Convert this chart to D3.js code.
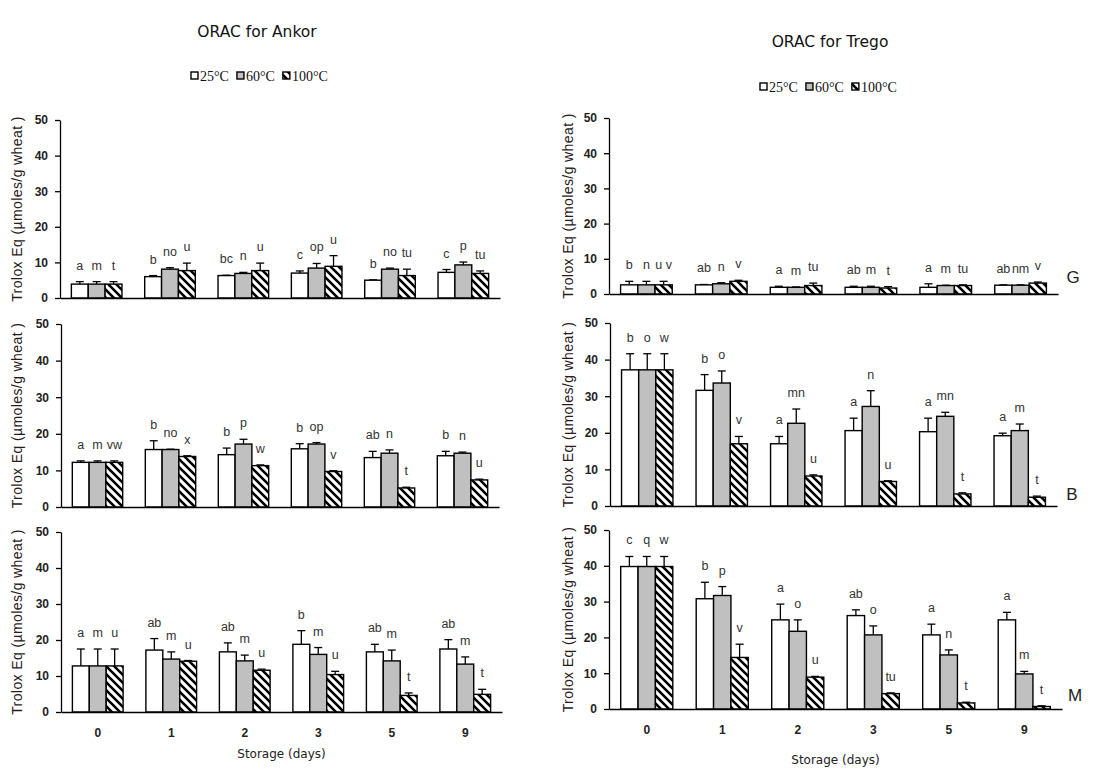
<!DOCTYPE html>
<html><head><meta charset="utf-8">
<script src="https://cdn.jsdelivr.net/npm/d3@7"></script>
<style>body{margin:0;background:#fff}</style>
</head><body><svg id="c" width="1114" height="771"></svg>
<script>
// ---------- data ----------
const days = ["0", "1", "2", "3", "5", "9"];
const temps = ["25°C", "60°C", "100°C"];
const yTicks = [0, 10, 20, 30, 40, 50];

// Ankor, G
const ankorG_25 = [3.9, 6.0, 6.3, 7.0, 5.0, 7.2];
const ankorG_25err = [0.7, 0.3, 0.1, 0.6, 0.1, 0.8];
const ankorG_60 = [3.9, 8.1, 6.9, 8.4, 8.1, 9.3];
const ankorG_60err = [0.7, 0.4, 0.3, 1.3, 0.3, 0.8];
const ankorG_100 = [3.9, 7.7, 7.7, 8.9, 6.3, 6.9];
const ankorG_100err = [0.7, 2.1, 2.1, 3.0, 1.8, 0.7];
const ankorG_letters = [["a","m","t"],["b","no","u"],["bc","n","u"],["c","op","u"],["b","no","tu"],["c","p","tu"]];

// Ankor, B
const ankorB_25 = [12.2, 15.7, 14.3, 15.9, 13.5, 14.0];
const ankorB_25err = [0.4, 2.4, 1.8, 1.4, 1.7, 1.2];
const ankorB_60 = [12.2, 15.7, 17.2, 17.2, 14.7, 14.7];
const ankorB_60err = [0.4, 0.1, 1.3, 0.4, 0.9, 0.3];
const ankorB_100 = [12.2, 13.8, 11.3, 9.7, 5.2, 7.4];
const ankorB_100err = [0.4, 0.2, 0.2, 0.2, 0.2, 0.2];
const ankorB_letters = [["a","m","vw"],["b","no","x"],["b","p","w"],["b","op","v"],["ab","n","t"],["b","n","u"]];

// Ankor, M
const ankorM_25 = [12.8, 17.2, 16.7, 18.8, 16.7, 17.5];
const ankorM_25err = [4.7, 3.2, 2.5, 3.8, 2.1, 2.6];
const ankorM_60 = [12.8, 14.7, 14.2, 16.0, 14.2, 13.3];
const ankorM_60err = [4.7, 2.0, 1.6, 1.9, 3.0, 2.0];
const ankorM_100 = [12.8, 14.1, 11.6, 10.4, 4.6, 4.9];
const ankorM_100err = [4.7, 0.2, 0.3, 0.9, 0.7, 1.4];
const ankorM_letters = [["a","m","u"],["ab","m","u"],["ab","m","u"],["b","m","u"],["ab","m","t"],["ab","m","t"]];

// Trego, G
const tregoG_25 = [2.6, 2.6, 1.9, 1.9, 1.9, 2.5];
const tregoG_25err = [1.0, 0.1, 0.3, 0.3, 1.0, 0.1];
const tregoG_60 = [2.6, 2.9, 1.9, 1.9, 2.4, 2.5];
const tregoG_60err = [1.0, 0.3, 0.1, 0.3, 0.1, 0.1];
const tregoG_100 = [2.6, 3.6, 2.4, 1.7, 2.4, 3.1];
const tregoG_100err = [1.0, 0.3, 0.7, 0.4, 0.2, 0.3];
const tregoG_letters = [["b","n","u v"],["ab","n","v"],["a","m","tu"],["ab","m","t"],["a","m","tu"],["ab","nm","v"]];

// Trego, B
const tregoB_25 = [37.2, 31.6, 17.0, 20.6, 20.3, 19.2];
const tregoB_25err = [4.4, 4.3, 2.0, 3.4, 3.7, 0.7];
const tregoB_60 = [37.2, 33.6, 22.6, 27.2, 24.5, 20.6];
const tregoB_60err = [4.4, 3.3, 3.9, 4.3, 1.1, 1.8];
const tregoB_100 = [37.2, 17.0, 8.2, 6.7, 3.3, 2.4];
const tregoB_100err = [4.4, 2.0, 0.3, 0.2, 0.3, 0.3];
const tregoB_letters = [["b","o","w"],["b","o","v"],["a","mn","u"],["a","n","u"],["a","mn","t"],["a","m","t"]];

// Trego, M
const tregoM_25 = [39.8, 30.8, 24.9, 26.1, 20.7, 24.9];
const tregoM_25err = [2.8, 4.6, 4.4, 1.6, 3.0, 2.1];
const tregoM_60 = [39.8, 31.7, 21.7, 20.7, 15.1, 9.8];
const tregoM_60err = [2.8, 2.5, 3.2, 2.5, 1.4, 0.7];
const tregoM_100 = [39.8, 14.4, 8.9, 4.3, 1.7, 0.7];
const tregoM_100err = [2.8, 3.7, 0.2, 0.2, 0.2, 0.2];
const tregoM_letters = [["c","q","w"],["b","p","v"],["a","o","u"],["ab","o","tu"],["a","n","t"],["a","m","t"]];

const titles = ["ORAC for Ankor", "ORAC for Trego"];
const yLabel = "Trolox Eq (µmoles/g wheat )";
const xLabel = "Storage (days)";
const panelTags = ["G", "B", "M"];

// ---------- layout ----------
const panels = [
  {x0: 60,  x1: 500,  yT: 120, yB: 298, m: [ankorG_25, ankorG_60, ankorG_100], e: [ankorG_25err, ankorG_60err, ankorG_100err], L: ankorG_letters, labX: 17, axisText: false},
  {x0: 61,  x1: 499,  yT: 324, yB: 507, m: [ankorB_25, ankorB_60, ankorB_100], e: [ankorB_25err, ankorB_60err, ankorB_100err], L: ankorB_letters, labX: 17, axisText: false},
  {x0: 61,  x1: 502,  yT: 532, yB: 712, m: [ankorM_25, ankorM_60, ankorM_100], e: [ankorM_25err, ankorM_60err, ankorM_100err], L: ankorM_letters, labX: 17, axisText: true},
  {x0: 609, x1: 1058, yT: 118, yB: 294, m: [tregoG_25, tregoG_60, tregoG_100], e: [tregoG_25err, tregoG_60err, tregoG_100err], L: tregoG_letters, labX: 568, axisText: false, tag: 0, tagX: 1073, tagY: 283},
  {x0: 610, x1: 1057, yT: 323, yB: 506, m: [tregoB_25, tregoB_60, tregoB_100], e: [tregoB_25err, tregoB_60err, tregoB_100err], L: tregoB_letters, labX: 568, axisText: false, tag: 1, tagX: 1072, tagY: 500},
  {x0: 609, x1: 1062, yT: 530, yB: 709, m: [tregoM_25, tregoM_60, tregoM_100], e: [tregoM_25err, tregoM_60err, tregoM_100err], L: tregoM_letters, labX: 568, axisText: true, tag: 2, tagX: 1075, tagY: 701}
];

const svg = d3.select("#c");
svg.append("rect").attr("width", 1114).attr("height", 771).attr("fill", "#fff");

const defs = svg.append("defs");
const pat = defs.append("pattern").attr("id", "hatch").attr("patternUnits", "userSpaceOnUse")
  .attr("width", 8).attr("height", 8);
pat.append("rect").attr("width", 8).attr("height", 8).attr("fill", "#fff");
pat.append("path").attr("d", "M-2,-2L10,10M-2,6L2,10M6,-2L10,2")
  .attr("stroke", "#000").attr("stroke-width", 2.6);

const fills = ["#fff", "#c0c0c0", "url(#hatch)"];
const sans = "'Liberation Sans', Arial, sans-serif";

panels.forEach(p => {
  const g = svg.append("g");
  const x = d3.scaleBand().domain(days).range([p.x0, p.x1]);
  const y = d3.scaleLinear().domain([0, 50]).range([p.yB, p.yT]);
  const groupW = x.bandwidth() * 0.69;
  const xi = d3.scaleBand().domain(temps).range([0, groupW]);

  days.forEach((d, i) => {
    temps.forEach((t, j) => {
      const bx = x(d) + (x.bandwidth() - groupW) / 2 + xi(t);
      const v = p.m[j][i], er = p.e[j][i];
      const cx = bx + xi.bandwidth() / 2;
      g.append("line").attr("x1", cx).attr("x2", cx).attr("y1", y(v)).attr("y2", y(v + er))
        .attr("stroke", "#000").attr("stroke-width", 1.3);
      g.append("line").attr("x1", cx - 4).attr("x2", cx + 4).attr("y1", y(v + er)).attr("y2", y(v + er))
        .attr("stroke", "#000").attr("stroke-width", 1.3);
      g.append("rect").attr("x", bx).attr("y", y(v)).attr("width", xi.bandwidth())
        .attr("height", y(0) - y(v)).attr("fill", fills[j])
        .attr("stroke", "#000").attr("stroke-width", 1.4);
      g.append("text").attr("x", cx).attr("y", y(v + er) - 12)
        .attr("text-anchor", "middle").attr("font-family", sans).attr("font-size", 12.5)
        .attr("fill", "#333").text(p.L[i][j]);
    });
  });

  const ya = g.append("g").attr("transform", `translate(${p.x0},0)`)
    .call(d3.axisLeft(y).tickValues(yTicks).tickSize(5).tickSizeOuter(0).tickPadding(7));
  ya.selectAll("text").attr("font-family", sans).attr("font-size", 12).attr("font-weight", "bold").attr("fill", "#222");
  ya.selectAll("line,path").attr("stroke", "#000").attr("stroke-width", 1.3);

  const xa = g.append("g").attr("transform", `translate(0,${p.yB})`)
    .call(d3.axisBottom(x).tickSize(0).tickSizeOuter(0).tickPadding(16)
      .tickFormat(p.axisText ? (d => d) : () => ""));
  xa.selectAll("text").attr("font-family", sans).attr("font-size", 12).attr("font-weight", "bold").attr("fill", "#222");
  xa.select(".domain").attr("stroke", "#000").attr("stroke-width", 1.5);

  g.append("text").attr("transform", `translate(${p.labX},${(p.yT + p.yB) / 2}) rotate(-90)`)
    .attr("text-anchor", "middle").attr("dominant-baseline", "central")
    .attr("font-family", sans).attr("font-size", 14).attr("letter-spacing", 0.4)
    .attr("fill", "#2a1a1a").text(yLabel);

  if (p.axisText) {
    g.append("text").attr("x", (p.x0 + p.x1) / 2).attr("y", p.yB + (p.x0 < 300 ? 46 : 55))
      .attr("text-anchor", "middle").attr("font-family", "'DejaVu Sans', sans-serif")
      .attr("font-size", 12).attr("fill", "#222").text(xLabel);
  }
  if (p.tag !== undefined) {
    g.append("text").attr("x", p.tagX).attr("y", p.tagY).attr("text-anchor", "middle")
      .attr("font-family", sans).attr("font-size", 17).attr("fill", "#222").text(panelTags[p.tag]);
  }
});

[[257, 37], [830, 47]].forEach((pos, k) => {
  svg.append("text").attr("x", pos[0]).attr("y", pos[1]).attr("text-anchor", "middle")
    .attr("font-family", "'DejaVu Sans', sans-serif").attr("font-size", 15.5)
    .attr("fill", "#111").text(titles[k]);
});

[[191, 81], [760, 92]].forEach(pos => {
  let cx = pos[0];
  const lg = svg.append("g");
  temps.forEach((t, j) => {
    lg.append("rect").attr("x", cx).attr("y", pos[1] - 9).attr("width", 7).attr("height", 7)
      .attr("fill", fills[j]).attr("stroke", "#000").attr("stroke-width", 1.4);
    const tx = lg.append("text").attr("x", cx + 9).attr("y", pos[1])
      .attr("font-family", "'Liberation Serif', 'Times New Roman', serif").attr("font-size", 14)
      .attr("fill", "#111").text(t);
    cx += 9 + tx.node().getComputedTextLength() + 8;
  });
});
</script></body></html>
